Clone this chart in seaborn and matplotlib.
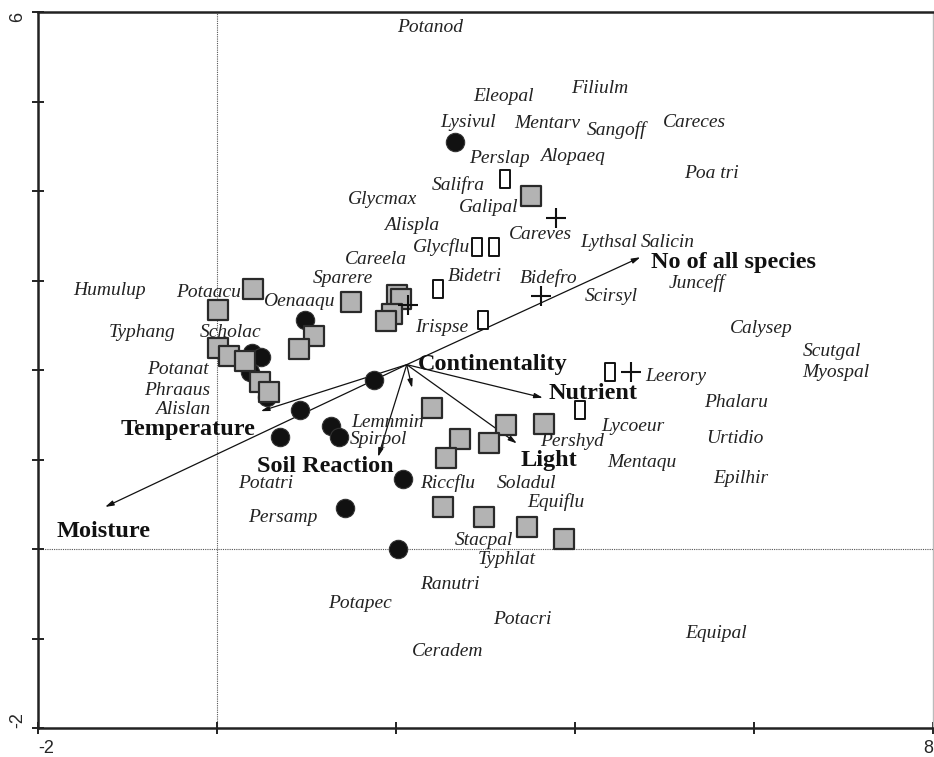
import numpy as np
import pandas as pd
import seaborn as sns
import matplotlib.pyplot as plt
from matplotlib.path import Path

# sample scores (CCA axis 1 / axis 2)
circle_x = [2.66, 0.98, 0.39, 0.49, 0.37, 0.56, 1.75, 0.93, 0.70, 1.27, 1.36, 2.08, 1.43, 2.02]
circle_y = [4.55, 2.56, 2.19, 2.15, 1.98, 1.70, 1.89, 1.55, 1.25, 1.37, 1.25, 0.78, 0.46, 0.00]

square_x = [0.40, 0.01, 0.01, 0.13, 0.31, 0.48, 0.58, 1.08, 0.92, 1.50, 2.01, 2.06, 1.96, 1.89,
            3.51, 2.40, 3.23, 3.65, 2.72, 3.04, 2.56, 2.53, 2.98, 3.46, 3.88]
square_y = [2.91, 2.67, 2.25, 2.16, 2.10, 1.87, 1.75, 2.38, 2.23, 2.76, 2.84, 2.79, 2.63, 2.55,
            3.94, 1.58, 1.39, 1.40, 1.23, 1.18, 1.02, 0.47, 0.36, 0.25, 0.11]

rect_x = [3.22, 2.91, 3.09, 2.47, 2.97, 4.06, 4.39]
rect_y = [4.13, 3.37, 3.37, 2.91, 2.56, 1.55, 1.98]

plus_x = [3.79, 3.62, 2.13, 4.63]
plus_y = [3.70, 2.83, 2.73, 1.98]

# species scores
species = ["Potanod", "Eleopal", "Filiulm", "Lysivul", "Mentarv", "Sangoff", "Careces", "Perslap",
           "Alopaeq", "Poa tri", "Salifra", "Glycmax", "Galipal", "Alispla", "Careves", "Lythsal",
           "Salicin", "Glycflu", "Careela", "Bidetri", "Bidefro", "Sparere", "Junceff", "Scirsyl",
           "Humulup", "Potaacu", "Oenaaqu", "Irispse", "Typhang", "Scholac", "Calysep", "Scutgal",
           "Myospal", "Potanat", "Leerory", "Phraaus", "Alislan", "Phalaru", "Lemnmin", "Lycoeur",
           "Spirpol", "Urtidio", "Pershyd", "Mentaqu", "Epilhir", "Potatri", "Riccflu", "Soladul",
           "Equiflu", "Persamp", "Stacpal", "Typhlat", "Ranutri", "Potapec", "Potacri", "Equipal",
           "Ceradem"]
species_x = [2.38, 3.20, 4.28, 2.80, 3.69, 4.46, 5.34, 3.15, 3.97, 5.52, 2.70, 1.85, 3.04, 2.18,
             3.61, 4.37, 5.04, 2.51, 1.78, 2.88, 3.70, 1.41, 5.36, 4.40, -1.20, -0.10, 0.91, 2.51,
             -0.84, 0.15, 6.08, 6.87, 6.91, -0.44, 5.12, -0.44, -0.38, 5.80, 1.91, 4.65, 1.80,
             5.79, 3.97, 4.75, 5.85, 0.54, 2.58, 3.46, 3.79, 0.74, 2.98, 3.24, 2.60, 1.60, 3.41,
             5.58, 2.58]
species_y = [5.83, 5.06, 5.15, 4.77, 4.75, 4.68, 4.77, 4.36, 4.38, 4.20, 4.07, 3.91, 3.82, 3.62,
             3.51, 3.42, 3.42, 3.37, 3.24, 3.04, 3.03, 3.02, 2.97, 2.82, 2.89, 2.87, 2.77, 2.48,
             2.42, 2.42, 2.46, 2.21, 1.97, 2.00, 1.93, 1.77, 1.56, 1.64, 1.41, 1.37, 1.22, 1.24,
             1.20, 0.97, 0.79, 0.73, 0.74, 0.73, 0.53, 0.35, 0.09, -0.12, -0.40, -0.61, -0.79,
             -0.94, -1.15]

# environmental variables (arrows start at centroid)
origin = (2.12, 2.06)
env_names = ["No of all species", "Moisture", "Temperature", "Soil Reaction", "Continentality",
             "Nutrient", "Light"]
env_x = [4.73, -1.25, 0.49, 1.80, 2.18, 3.64, 3.35]
env_y = [3.26, 0.47, 1.54, 1.03, 1.80, 1.69, 1.18]
env_label_x = [5.77, -1.27, -0.32, 1.21, 3.08, 4.20, 3.71]
env_label_y = [3.20, 0.19, 1.33, 0.92, 2.06, 1.74, 0.99]

sns.set_style("white")
fig = plt.figure(figsize=(9.34, 7.57), dpi=100)
ax = fig.add_axes([38 / 934, 29 / 757, 895 / 934, 716 / 757])

ax.axvline(0, color="#555555", lw=0.8, ls=(0, (1, 1)), zorder=0)
ax.axhline(0, color="#555555", lw=0.8, ls=(0, (1, 1)), zorder=0)

# arrows
for ex, ey in zip(env_x, env_y):
    ax.annotate("", xy=(ex, ey), xytext=origin,
                arrowprops=dict(arrowstyle="-|>,head_length=0.5,head_width=0.15",
                                color="#111111", lw=0.9, shrinkA=0, shrinkB=0), zorder=2)

rect_marker = Path([(-0.27, -0.5), (0.27, -0.5), (0.27, 0.5), (-0.27, 0.5), (-0.27, -0.5)],
                   [Path.MOVETO, Path.LINETO, Path.LINETO, Path.LINETO, Path.CLOSEPOLY])

sns.scatterplot(x=circle_x, y=circle_y, ax=ax, marker="o", s=175, color="#111111",
                edgecolor="#333333", linewidth=0.8, zorder=3)
sns.scatterplot(x=square_x, y=square_y, ax=ax, marker="s", s=200, color="#b3b3b3",
                edgecolor="#2a2a2a", linewidth=1.6, zorder=3)
sns.scatterplot(x=rect_x, y=rect_y, ax=ax, marker=rect_marker, s=150, color="white",
                edgecolor="#111111", linewidth=1.4, zorder=3)
sns.scatterplot(x=plus_x, y=plus_y, ax=ax, marker="+", s=220, color="#111111",
                linewidth=1.5, zorder=3)

for name, sx, sy in zip(species, species_x, species_y):
    ax.text(sx, sy, name, ha="center", va="center", fontsize=14, style="italic",
            family="Liberation Serif", color="#222222", zorder=4)

for name, lx, ly in zip(env_names, env_label_x, env_label_y):
    ax.text(lx, ly, name, ha="center", va="center", fontsize=17.5, weight="bold",
            family="Liberation Serif", color="#111111", zorder=4)

ax.set_xlim(-2, 8)
ax.set_ylim(-2, 6)
ax.set_xticks([-2, 0, 2, 4, 6, 8])
ax.set_xticklabels(["-2", "", "", "", "", "8"])
ax.set_yticks(range(-2, 7))
ax.set_yticklabels(["-2", "", "", "", "", "", "", "", "6"], rotation=90)
ax.tick_params(direction="inout", length=9, width=1.4, color="#222222", labelsize=13,
               left=True, bottom=True, pad=4)
for lab in ax.get_xticklabels() + ax.get_yticklabels():
    lab.set_family("Liberation Sans")
xl = ax.get_xticklabels()
xl[0].set_ha("left")
xl[-1].set_ha("right")
yl = ax.get_yticklabels()
yl[0].set_va("bottom")
yl[-1].set_va("top")
ax.set_xlabel("")
ax.set_ylabel("")

for side in ["left", "bottom", "top"]:
    ax.spines[side].set_color("#222222")
    ax.spines[side].set_linewidth(1.8)
ax.spines["right"].set_color("#bbbbbb")
ax.spines["right"].set_linewidth(1.0)

fig.savefig("out.png", dpi=100)
